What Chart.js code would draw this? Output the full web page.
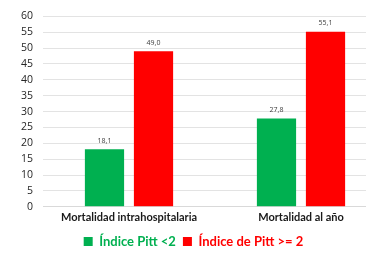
<!DOCTYPE html>
<html><head><meta charset="utf-8">
<script src="https://cdn.jsdelivr.net/npm/chart.js@4"></script>
<style>html,body{margin:0;padding:0;background:#fff;overflow:hidden;width:366px;height:260px}
#wrap{width:390px;height:260px;position:relative}</style>
</head><body><div id="wrap"><canvas id="c" width="390" height="260"></canvas></div>
<script>
const categories = ["Mortalidad intrahospitalaria", "Mortalidad al año"];
const seriesNames = ["Índice Pitt <2", "Índice de Pitt >= 2"];
const pittLow = [18.1, 27.8];
const pittHigh = [49.0, 55.1];
const yTicks = [0,5,10,15,20,25,30,35,40,45,50,55,60];
const colors = ["#00B050", "#FF0000"];

const labelPlugin = {
  id: 'vals',
  afterDatasetsDraw(chart) {
    const ctx = chart.ctx;
    ctx.save();
    ctx.font = '7px "Open Sans", sans-serif';
    ctx.fillStyle = '#404040';
    ctx.textAlign = 'center';
    ctx.textBaseline = 'bottom';
    chart.data.datasets.forEach((ds, i) => {
      chart.getDatasetMeta(i).data.forEach((bar, j) => {
        ctx.fillText(ds.data[j].toFixed(1).replace('.', ','), bar.x, bar.y - 5);
      });
    });
    ctx.restore();
  }
};

new Chart(document.getElementById('c'), {
  type: 'bar',
  data: {
    labels: categories,
    datasets: [
      {label: seriesNames[0], data: pittLow, backgroundColor: colors[0], borderWidth: 0},
      {label: seriesNames[1], data: pittHigh, backgroundColor: colors[1], borderWidth: 0}
    ]
  },
  options: {
    responsive: false,
    animation: false,
    devicePixelRatio: 1,
    categoryPercentage: 0.57,
    barPercentage: 0.8,
    layout: {padding: {top: 8, right: 3, left: 0, bottom: 2}},
    plugins: {
      tooltip: {enabled: false},
      legend: {
        position: 'bottom',
        labels: {
          boxWidth: 9, boxHeight: 9, padding: 7,
          font: {family: 'Lato, "Open Sans", sans-serif', size: 13, weight: 'bold'},
          generateLabels(chart) {
            return chart.data.datasets.map((ds, i) => ({
              text: ds.label, fillStyle: ds.backgroundColor, strokeStyle: ds.backgroundColor,
              lineWidth: 0, fontColor: ds.backgroundColor, datasetIndex: i, hidden: false
            }));
          }
        }
      }
    },
    scales: {
      x: {
        grid: {display: false, drawTicks: false},
        border: {color: '#D9D9D9'},
        ticks: {color: '#1a1a1a', padding: 4, font: {family: 'Lato, "Open Sans", sans-serif', size: 11, weight: 'bold'}}
      },
      y: {
        min: 0, max: 60,
        afterBuildTicks(s) { s.ticks = yTicks.map(v => ({value: v})); },
        afterFit(s) { s.width = 43; },
        grid: {color: '#E3E3E3', drawTicks: false},
        border: {display: false},
        ticks: {color: '#262626', padding: 10, autoSkip: false, font: {family: '"Open Sans", sans-serif', size: 10.5}}
      }
    }
  },
  plugins: [labelPlugin]
});
</script></body></html>
